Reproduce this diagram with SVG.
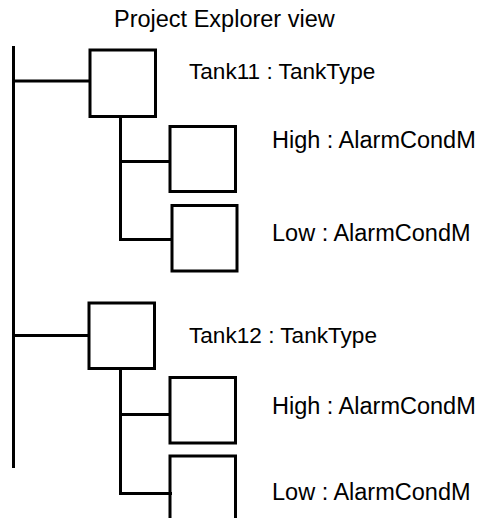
<svg xmlns="http://www.w3.org/2000/svg" width="484" height="518" viewBox="0 0 484 518">
<style>
.box{fill:#fff;stroke:#000;stroke-width:3}
.ln{fill:none;stroke:#000;stroke-width:3}
text{font-family:"Liberation Sans",Arial,sans-serif;font-size:23.5px;fill:#000}
.tk{font-size:22.6px}
</style>
<rect width="484" height="518" fill="#fff"/>
<text x="114" y="27">Project Explorer view</text>
<g id="connectors">
<path class="ln" d="M13.5 46V468"/>
<path class="ln" d="M13.5 81H90"/>
<path class="ln" d="M120.5 116V239.5H172"/>
<path class="ln" d="M120.5 161.5H172"/>
<path class="ln" d="M13.5 335.5H89"/>
<path class="ln" d="M120.5 368V493.5H172"/>
<path class="ln" d="M120.5 414.5H172"/>
</g>
<g id="tank11">
<rect class="box" x="90" y="50" width="65.5" height="66.5"/>
<text class="tk" x="189" y="79">Tank11 : TankType</text>
</g>
<g id="high11">
<rect class="box" x="170" y="126.5" width="65.5" height="65"/>
<text x="272" y="148">High : AlarmCondM</text>
</g>
<g id="low11">
<rect class="box" x="172" y="205.5" width="65" height="65.5"/>
<text x="272" y="241">Low : AlarmCondM</text>
</g>
<g id="tank12">
<rect class="box" x="89" y="303" width="65.5" height="65.5"/>
<text class="tk" x="189" y="342.5">Tank12 : TankType</text>
</g>
<g id="high12">
<rect class="box" x="170" y="377.5" width="65.5" height="65.5"/>
<text x="272" y="413.5">High : AlarmCondM</text>
</g>
<g id="low12">
<path class="ln" d="M170 520V456H235.5V520"/>
<text x="272" y="499.5">Low : AlarmCondM</text>
</g>
</svg>
